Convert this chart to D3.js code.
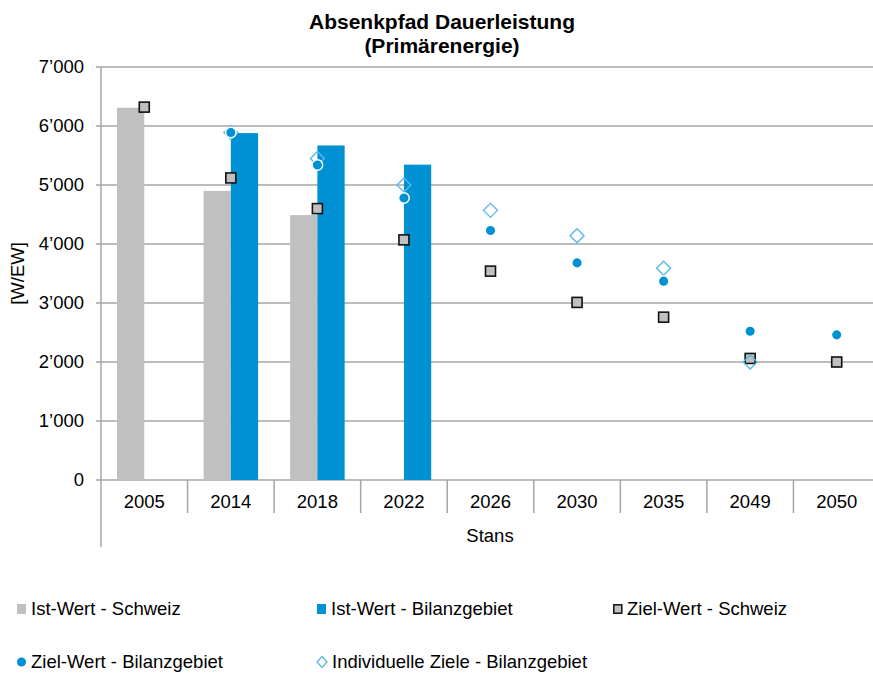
<!DOCTYPE html>
<html>
<head>
<meta charset="utf-8">
<script src="https://cdn.jsdelivr.net/npm/d3@7/dist/d3.min.js"></script>
<style>
  body { margin: 0; background: #fff; }
  text { font-family: "Liberation Sans", Arial, sans-serif; fill: #000; }
</style>
</head>
<body>
<script>
// Categories (years) and series values
const years = ["2005", "2014", "2018", "2022", "2026", "2030", "2035", "2049", "2050"];
const istSchweiz = [6310, 4900, 4490, null, null, null, null, null, null];
const istBilanz = [null, 5880, 5670, 5345, null, null, null, null, null];
const zielSchweiz = [6320, 5120, 4600, 4070, 3540, 3010, 2760, 2060, 2000];
const zielBilanz = [null, 5890, 5340, 4780, 4230, 3680, 3370, 2520, 2460];
const individuell = [null, 5890, 5450, 5000, 4570, 4140, 3590, 2000, null];
const yTicks = [0, 1000, 2000, 3000, 4000, 5000, 6000, 7000];

const legendItems = [
  { label: "Ist-Wert - Schweiz", type: "bar", color: "#c0c0c0" },
  { label: "Ist-Wert - Bilanzgebiet", type: "bar", color: "#0091d5" },
  { label: "Ziel-Wert - Schweiz", type: "square" },
  { label: "Ziel-Wert - Bilanzgebiet", type: "circle" },
  { label: "Individuelle Ziele - Bilanzgebiet", type: "diamond" }
];

const W = 873, H = 675;
const GREY = "#c0c0c0", BLUE = "#0091d5", LIGHTBLUE = "#5db7e8", GRID = "#a6a6a6";
const FS = "18.5px";

const svg = d3.select("body").append("svg")
  .attr("width", W)
  .attr("height", H);

const x = d3.scaleBand().domain(years).range([101, 880]).paddingInner(0).paddingOuter(0);
const y = d3.scaleLinear().domain([0, 7000]).range([480, 67]);
const bw = x.bandwidth() * 0.315;
const cx = d => x(d) + x.bandwidth() / 2;

const fmt = d3.formatLocale({ decimal: ".", thousands: "\u2019", grouping: [3], currency: ["", ""] }).format(",");

// Grid lines
svg.append("g")
  .selectAll("line")
  .data(yTicks)
  .join("line")
  .attr("x1", 96)
  .attr("x2", W)
  .attr("y1", d => y(d))
  .attr("y2", d => y(d))
  .attr("stroke", GRID)
  .attr("stroke-width", 1.5);

// Y tick labels
svg.append("g")
  .selectAll("text")
  .data(yTicks)
  .join("text")
  .attr("x", 84)
  .attr("y", d => y(d))
  .attr("dy", "0.35em")
  .attr("text-anchor", "end")
  .style("font-size", FS)
  .text(d => fmt(d));

// Bars
const bars = svg.append("g");
years.forEach((yr, i) => {
  if (istSchweiz[i] != null) {
    bars.append("rect")
      .attr("x", cx(yr) - bw)
      .attr("y", y(istSchweiz[i]))
      .attr("width", bw)
      .attr("height", y(0) - y(istSchweiz[i]))
      .attr("fill", GREY);
  }
  if (istBilanz[i] != null) {
    bars.append("rect")
      .attr("x", cx(yr))
      .attr("y", y(istBilanz[i]))
      .attr("width", bw)
      .attr("height", y(0) - y(istBilanz[i]))
      .attr("fill", BLUE);
  }
});

// Axis lines
svg.append("line")
  .attr("x1", 101).attr("x2", 101)
  .attr("y1", 67).attr("y2", 547)
  .attr("stroke", GRID).attr("stroke-width", 1.5);

svg.append("g")
  .selectAll("line")
  .data(years.slice(1))
  .join("line")
  .attr("x1", d => x(d))
  .attr("x2", d => x(d))
  .attr("y1", 480)
  .attr("y2", 513)
  .attr("stroke", GRID)
  .attr("stroke-width", 1.5);

// Category labels
svg.append("g")
  .selectAll("text")
  .data(years)
  .join("text")
  .attr("x", d => cx(d))
  .attr("y", 502)
  .attr("dy", "0.35em")
  .attr("text-anchor", "middle")
  .style("font-size", FS)
  .text(d => d);

svg.append("text")
  .attr("x", 490)
  .attr("y", 536)
  .attr("dy", "0.35em")
  .attr("text-anchor", "middle")
  .style("font-size", FS)
  .text("Stans");

svg.append("text")
  .attr("transform", `translate(18, ${y(3500)}) rotate(-90)`)
  .attr("dy", "0.35em")
  .attr("text-anchor", "middle")
  .style("font-size", FS)
  .text("[W/EW]");

// Title
const title = svg.append("text")
  .attr("text-anchor", "middle")
  .style("font-size", "21px")
  .style("font-weight", "bold");
title.append("tspan").attr("x", 442).attr("y", 29).text("Absenkpfad Dauerleistung");
title.append("tspan").attr("x", 442).attr("y", 53).text("(Primärenergie)");

// Markers
const sq = 10;
svg.append("g")
  .selectAll("rect")
  .data(years.map((yr, i) => ({ yr, v: zielSchweiz[i] })).filter(d => d.v != null))
  .join("rect")
  .attr("x", d => cx(d.yr) - sq / 2)
  .attr("y", d => y(d.v) - sq / 2)
  .attr("width", sq)
  .attr("height", sq)
  .attr("fill", GREY)
  .attr("stroke", "#111")
  .attr("stroke-width", 1.6);

const dia = 7;
svg.append("g")
  .selectAll("path")
  .data(years.map((yr, i) => ({ yr, v: individuell[i] })).filter(d => d.v != null))
  .join("path")
  .attr("d", d => {
    const px = cx(d.yr), py = y(d.v);
    return `M${px},${py - dia}L${px + dia},${py}L${px},${py + dia}L${px - dia},${py}Z`;
  })
  .attr("fill", "none")
  .attr("stroke", LIGHTBLUE)
  .attr("stroke-width", 1.4);

svg.append("g")
  .selectAll("circle")
  .data(years.map((yr, i) => ({ yr, v: zielBilanz[i] })).filter(d => d.v != null))
  .join("circle")
  .attr("cx", d => cx(d.yr))
  .attr("cy", d => y(d.v))
  .attr("r", 5.3)
  .attr("fill", BLUE)
  .attr("stroke", "#fff")
  .attr("stroke-width", 1.5);

// Legend
const legendPos = [[17, 609], [317, 609], [613, 609], [17, 662], [317, 662]];
legendItems.forEach((it, i) => {
  const [lx, ly] = legendPos[i];
  const g = svg.append("g").attr("transform", `translate(${lx}, ${ly})`);
  if (it.type === "bar") {
    g.append("rect").attr("x", 0).attr("y", -5).attr("width", 9).attr("height", 10).attr("fill", it.color);
  } else if (it.type === "square") {
    g.append("rect").attr("x", 0.8).attr("y", -4.2).attr("width", 8).attr("height", 8.4)
      .attr("fill", GREY).attr("stroke", "#111").attr("stroke-width", 1.5);
  } else if (it.type === "circle") {
    g.append("circle").attr("cx", 4.5).attr("cy", 0).attr("r", 4.5).attr("fill", BLUE);
  } else {
    g.append("path").attr("d", "M5,-5.5L10,0L5,5.5L0,0Z")
      .attr("fill", "none").attr("stroke", LIGHTBLUE).attr("stroke-width", 1.3);
  }
  g.append("text")
    .attr("x", it.type === "diamond" ? 15 : 14)
    .attr("dy", "0.35em")
    .style("font-size", FS)
    .text(it.label);
});
</script>
</body>
</html>
